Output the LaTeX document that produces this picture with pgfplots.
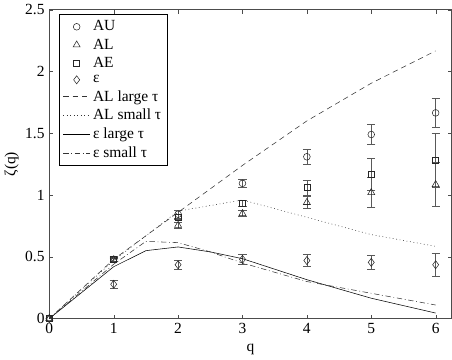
\documentclass[border=0pt]{standalone}
\usepackage{pgfplots}
\pgfplotsset{compat=1.18}
\usepackage{pgfplotstable}
\usepackage{fontspec}
\setmainfont{Liberation Serif}

% q  zeta  err
\pgfplotstableread{
q y e
0 0 0
1 0.48 0.02
2 0.845 0.03
3 1.095 0.035
4 1.31 0.06
5 1.49 0.08
6 1.665 0.12
}\AU
\pgfplotstableread{
q y e
0 0 0
1 0.475 0.015
2 0.755 0.025
3 0.85 0.025
4 0.94 0.05
5 1.02 0.12
6 1.085 0.18
}\AL
\pgfplotstableread{
q y e
0 0 0
1 0.48 0.015
2 0.82 0.02
3 0.93 0.025
4 1.06 0.06
5 1.17 0.13
6 1.28 0.22
}\AE
\pgfplotstableread{
q y e
0 0 0
1 0.278 0.03
2 0.436 0.035
3 0.48 0.04
4 0.47 0.05
5 0.455 0.06
6 0.436 0.09
}\EPS

\begin{document}
\begin{tikzpicture}
\begin{axis}[
  scale only axis,
  width=299pt,height=229.5pt,
  xmin=0,xmax=6.25,ymin=0,ymax=2.5,
  xtick={0,...,6},
  ytick={0,0.5,1,1.5,2,2.5},
  tick align=inside,
  major tick length=3pt,
  tick style={black!70},
  axis line style={black!70},
  xlabel={q},
  ylabel={ζ(q)},
  every axis label/.append style={font=\rmfamily\fontsize{11.5}{13}\selectfont},
  tick label style={font=\rmfamily\fontsize{11.5}{13}\selectfont},
  /pgf/number format/assume math mode=true,
  xlabel style={yshift=-1pt},
  ylabel style={yshift=-2pt},
  legend cell align=left,
  legend style={at={(0.025,0.985)},anchor=north west,draw=black,
    font=\rmfamily\fontsize{11.5}{13}\selectfont,row sep=0.4pt,inner sep=2.5pt},
  legend image code/.code={
    \draw[mark repeat=2,mark phase=2,#1] plot coordinates {(0cm,0cm)(0.35cm,0cm)(0.7cm,0cm)};},
  error bars/error bar style={black!65,line width=0.5pt},
  error bars/error mark options={rotate=90,mark size=3pt,black!65,line width=0.5pt},
]
\addplot[only marks,mark=o,mark size=2.5pt,black!85,
  error bars/.cd,y dir=both,y explicit] table[x=q,y=y,y error=e]{\AU};
\addlegendentry{AU}
\addplot[only marks,mark=triangle,mark size=3pt,black!85,
  error bars/.cd,y dir=both,y explicit] table[x=q,y=y,y error=e]{\AL};
\addlegendentry{AL}
\addplot[only marks,mark=square,mark size=2.2pt,black!85,
  error bars/.cd,y dir=both,y explicit] table[x=q,y=y,y error=e]{\AE};
\addlegendentry{AE}
\addplot[only marks,mark=diamond,mark size=3pt,black!85,
  error bars/.cd,y dir=both,y explicit] table[x=q,y=y,y error=e]{\EPS};
\addlegendentry{ε}
\addplot[black!80,no marks,dash pattern=on 4pt off 3pt] coordinates {
  (0,0)(1,0.48)(2,0.86)(3,1.24)(4,1.60)(5,1.905)(6,2.167)};
\addlegendentry{AL large τ}
\addplot[black!80,no marks,dash pattern=on 0.6pt off 2pt] coordinates {
  (0,0)(1,0.47)(2,0.87)(3,0.96)(4,0.82)(5,0.68)(6,0.585)};
\addlegendentry{AL small τ}
\addplot[black,no marks] coordinates {
  (0,0)(1,0.42)(1.5,0.55)(2,0.58)(2.5,0.54)(3,0.485)(4,0.315)(5,0.165)(6,0.045)};
\addlegendentry{ε large τ}
\addplot[black!80,no marks,dash pattern=on 4pt off 2pt on 0.6pt off 2pt] coordinates {
  (0,0)(1,0.44)(1.5,0.625)(2,0.615)(2.5,0.54)(3,0.45)(4,0.30)(5,0.205)(6,0.11)};
\addlegendentry{ε small τ}
\end{axis}
\end{tikzpicture}
\end{document}
